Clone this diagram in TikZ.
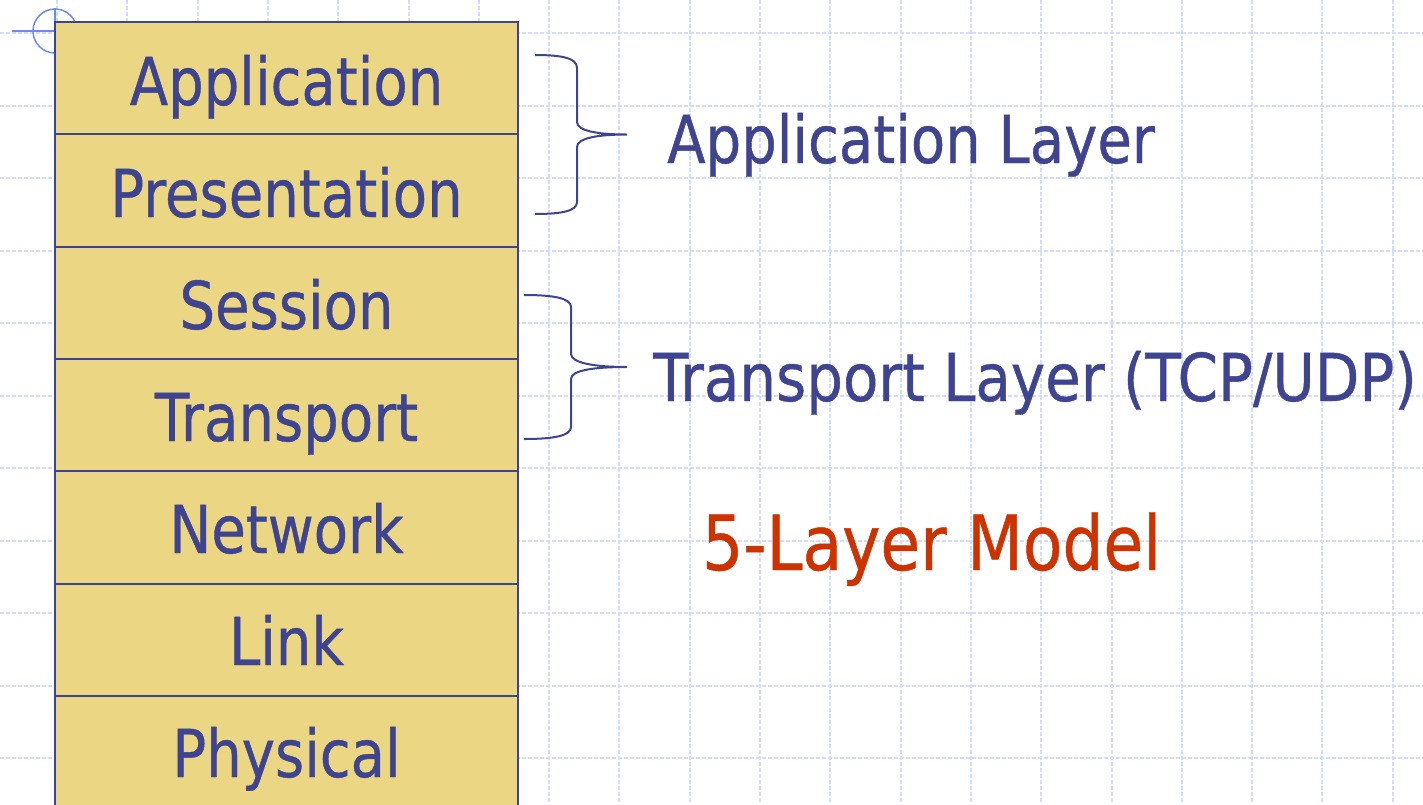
\documentclass[tikz,border=0pt]{standalone}
\usepackage{fontspec}
\setmainfont{DejaVu Sans}[FakeStretch=0.85,FakeBold=0.6]
\newfontfamily\widefont{DejaVu Sans}[FakeStretch=0.877,FakeBold=0.6]
\definecolor{cellfill}{HTML}{EAD683}
\definecolor{ink}{HTML}{3F4490}
\definecolor{redink}{HTML}{CC3300}
\definecolor{gridc}{HTML}{D3DCF8}
\definecolor{cross}{HTML}{6B8CEB}
\tikzset{
  gridline/.style={draw=gridc, line width=2pt, dash pattern=on 4pt off 2pt},
  cell/.style={draw=ink, fill=cellfill, line width=2pt, minimum width=463pt, minimum height=112.3pt, inner sep=0pt, outer sep=0pt},
  celltext/.style={anchor=base, inner sep=0pt, text=ink, font=\fontsize{66}{70}\selectfont},
  label/.style={anchor=base west, inner sep=0pt, text=ink, font=\fontsize{66}{70}\selectfont},
  bigred/.style={anchor=base west, inner sep=0pt, text=redink, font=\fontsize{76}{80}\selectfont},
  bracel/.style={draw=ink, line width=2pt},
}
\begin{document}
\begin{tikzpicture}[x=1pt,y=-1pt]
\useasboundingbox (0,0) rectangle (1423,804);
% background grid
\foreach \k in {0,...,10} {
  \draw[gridline] (0,{33+72.5*\k}) -- (1423,{33+72.5*\k});
}
\foreach \k in {0,...,19} {
  \draw[gridline] ({57+70.3*\k},0) -- ({57+70.3*\k},804);
}
% crosshair mark
\draw[cross, line width=1.5pt] (55,31) circle (22);
\draw[cross, line width=1.5pt] (12,31) -- (55,31);
\draw[cross, line width=2pt] (55,8) -- (55,54);
% layer stack
\node[cell] (c1) at (286.5,78.15) {};
\node[cell] (c2) at (286.5,190.45) {};
\node[cell] (c3) at (286.5,302.75) {};
\node[cell] (c4) at (286.5,415.05) {};
\node[cell] (c5) at (286.5,527.35) {};
\node[cell] (c6) at (286.5,639.65) {};
\node[cell] (c7) at (286.5,751.95) {};
\node[celltext] (t1) at (286.5,105) {Application};
\node[celltext] (t2) at (286.5,217) {Presentation};
\node[celltext] (t3) at (286.5,329) {Session};
\node[celltext] (t4) at (286.5,441) {Transport};
\node[celltext] (t5) at (286.5,553) {Network};
\node[celltext] (t6) at (286.5,665) {Link};
\node[celltext] (t7) at (286.5,777) {Physical};
% braces
\coordinate (b1top) at (535,55);
\coordinate (b1tip) at (627,134.5);
\coordinate (b1bot) at (535,214);
\draw[bracel] (b1top) .. controls (562,55) and (577,58) .. (577,68) -- (577,122)
  .. controls (577,131) and (598,134.5) .. (b1tip)
  .. controls (598,134.5) and (577,138) .. (577,147) -- (577,202)
  .. controls (577,211) and (562,214) .. (b1bot);
\coordinate (b2top) at (524,295);
\coordinate (b2tip) at (627,367);
\coordinate (b2bot) at (524,439);
\draw[bracel] (b2top) .. controls (553,295) and (571,298) .. (571,307) -- (571,354)
  .. controls (571,363) and (595,367) .. (b2tip)
  .. controls (595,367) and (571,370) .. (571,379) -- (571,427)
  .. controls (571,436) and (553,439) .. (b2bot);
% labels
\node[label] (l1) at (667,163) {Application Layer};
\node[label, font=\widefont\fontsize{66}{70}\selectfont] (l2) at (653,401) {Transport Layer (TCP/UDP)};
\node[bigred] (l3) at (702,570) {5-Layer Model};
\end{tikzpicture}
\end{document}
